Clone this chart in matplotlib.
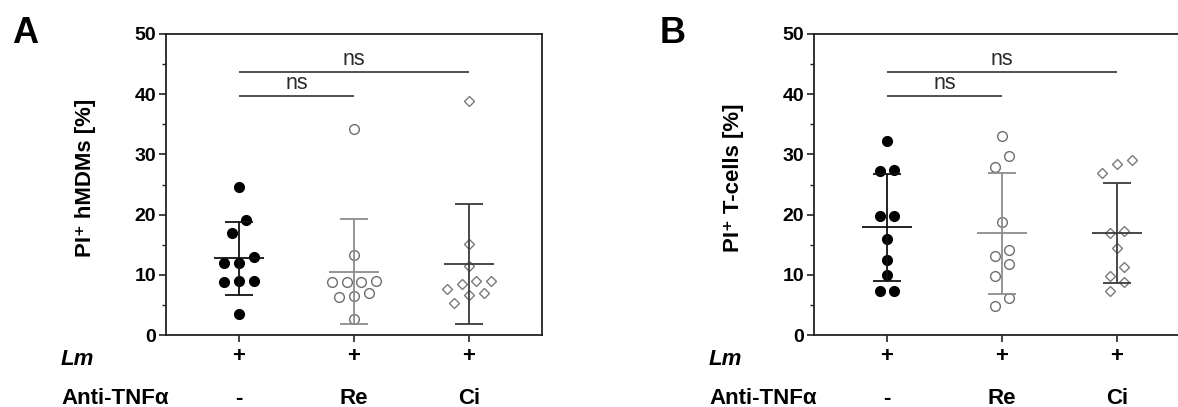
import numpy as np
import matplotlib
matplotlib.use('Agg')
import matplotlib.pyplot as plt
from matplotlib.ticker import MultipleLocator
from matplotlib.transforms import blended_transform_factory

plt.rcParams['font.family'] = ['Liberation Sans', 'DejaVu Sans']

# data (percent PI+ cells per donor)
treatments = ['-', 'Re', 'Ci']
lm_row = ['+', '+', '+']

hmdm_ctrl = [24.6, 19.1, 17.0, 12.9, 11.9, 12.0, 8.9, 8.8, 9.0, 3.5]
hmdm_re = [34.3, 13.3, 8.8, 8.8, 8.8, 9.0, 6.4, 6.3, 6.9, 2.7]
hmdm_ci = [38.9, 15.1, 11.4, 8.9, 8.4, 8.9, 6.9, 7.6, 6.6, 5.3]

tcell_ctrl = [32.2, 27.4, 27.2, 19.7, 19.7, 15.9, 12.4, 9.9, 7.3, 7.3]
tcell_re = [33.1, 29.7, 27.9, 18.7, 14.1, 13.1, 11.8, 9.8, 6.2, 4.8]
tcell_ci = [29.0, 28.4, 26.9, 17.2, 16.9, 14.4, 11.3, 9.8, 8.8, 7.3]

ns_pairs = [(0, 1), (0, 2)]
ns_heights = [39.75, 43.7]

W, H = 1178, 407

marker_styles = [
    dict(marker='o', mfc='black', mec='black', ms=7, mew=1),
    dict(marker='o', mfc='white', mec='#6e6e6e', ms=7, mew=1),
    dict(marker='D', mfc='white', mec='#7a7a7a', ms=5.5, mew=1),
]
bar_colors = ['#111111', '#8c8c8c', '#3a3a3a']


def swarm(values, row_width=2.2, step=0.128):
    # put close values on one row and spread them around the centre
    vals = np.asarray(values, float)
    order = np.argsort(vals, kind='stable')
    offs = np.zeros(len(vals))
    rows = []
    for i in order:
        if rows and vals[i] - vals[rows[-1][0]] <= row_width:
            rows[-1].append(i)
        else:
            rows.append([i])
    for row in rows:
        n = len(row)
        for k, i in enumerate(row):
            offs[i] = (k - (n - 1) / 2) * step
    return offs


def panel(fig, left_px, letter, ylabel, series):
    ax = fig.add_axes([left_px / W, 72 / H, 376 / W, 301 / H])
    xs = np.arange(1, len(series) + 1)
    for x, vals, st, col in zip(xs, series, marker_styles, bar_colors):
        vals = np.asarray(vals, float)
        ax.plot(x + swarm(vals), vals, ls='none', zorder=3, **st)
        m, sd = vals.mean(), vals.std(ddof=1)
        ax.hlines(m, x - 0.22, x + 0.22, color=col, lw=1.3, zorder=4)
        ax.vlines(x, m - sd, m + sd, color=col, lw=1.3, zorder=4)
        ax.hlines([m - sd, m + sd], x - 0.12, x + 0.12, color=col, lw=1.3, zorder=4)

    for (a, b), h in zip(ns_pairs, ns_heights):
        ax.hlines(h, xs[a], xs[b], color='#333333', lw=1.2)
        ax.text((xs[a] + xs[b]) / 2, h + 0.3, 'ns', ha='center', va='bottom',
                fontsize=15.5, color='#2a2a2a')

    ax.set_xlim(1 - 0.635, 3 + 0.635)
    ax.set_ylim(0, 50)
    ax.yaxis.set_major_locator(MultipleLocator(10))
    ax.yaxis.set_minor_locator(MultipleLocator(5))
    ax.set_xticks(xs)
    ax.set_xticklabels([])
    ax.tick_params(axis='y', which='major', length=5, width=1.2, pad=2,
                   labelsize=14, color='#222222')
    ax.tick_params(axis='y', which='minor', length=3, width=1.0, color='#222222')
    ax.tick_params(axis='x', length=5, width=1.2, color='#222222')
    for lab in ax.get_yticklabels():
        lab.set_fontweight('bold')
    for sp in ax.spines.values():
        sp.set_linewidth(1.3)
        sp.set_color('#222222')

    tr = blended_transform_factory(ax.transData, fig.transFigure)
    for x, p, t in zip(xs, lm_row, treatments):
        fig.text(x, 1 - 357 / H, p, transform=tr, ha='center', va='center',
                 fontsize=16, fontweight='bold')
        fig.text(x, 1 - 404 / H, t, transform=tr, ha='center', va='baseline',
                 fontsize=16, fontweight='bold')

    off = left_px - 166
    fig.text((61 + off) / W, 1 - 365 / H, 'Lm', fontsize=16, fontweight='bold',
             style='italic', va='baseline')
    fig.text((61 + off) / W, 1 - 404 / H, 'Anti-TNF\u03b1', fontsize=16,
             fontweight='bold', va='baseline')
    fig.text((85 + off) / W, 1 - 178 / H, ylabel, rotation=90, ha='center',
             va='center', fontsize=16, fontweight='bold')
    fig.text((12 + off) / W, 1 - 16 / H, letter, fontsize=26, fontweight='bold',
             va='top', ha='left')
    return ax


fig = plt.figure(figsize=(W / 100, H / 100), dpi=100)
panel(fig, 166, 'A', 'PI\u207a hMDMs [%]', [hmdm_ctrl, hmdm_re, hmdm_ci])
panel(fig, 814, 'B', 'PI\u207a T-cells [%]', [tcell_ctrl, tcell_re, tcell_ci])
fig.savefig('out.png', dpi=100)
